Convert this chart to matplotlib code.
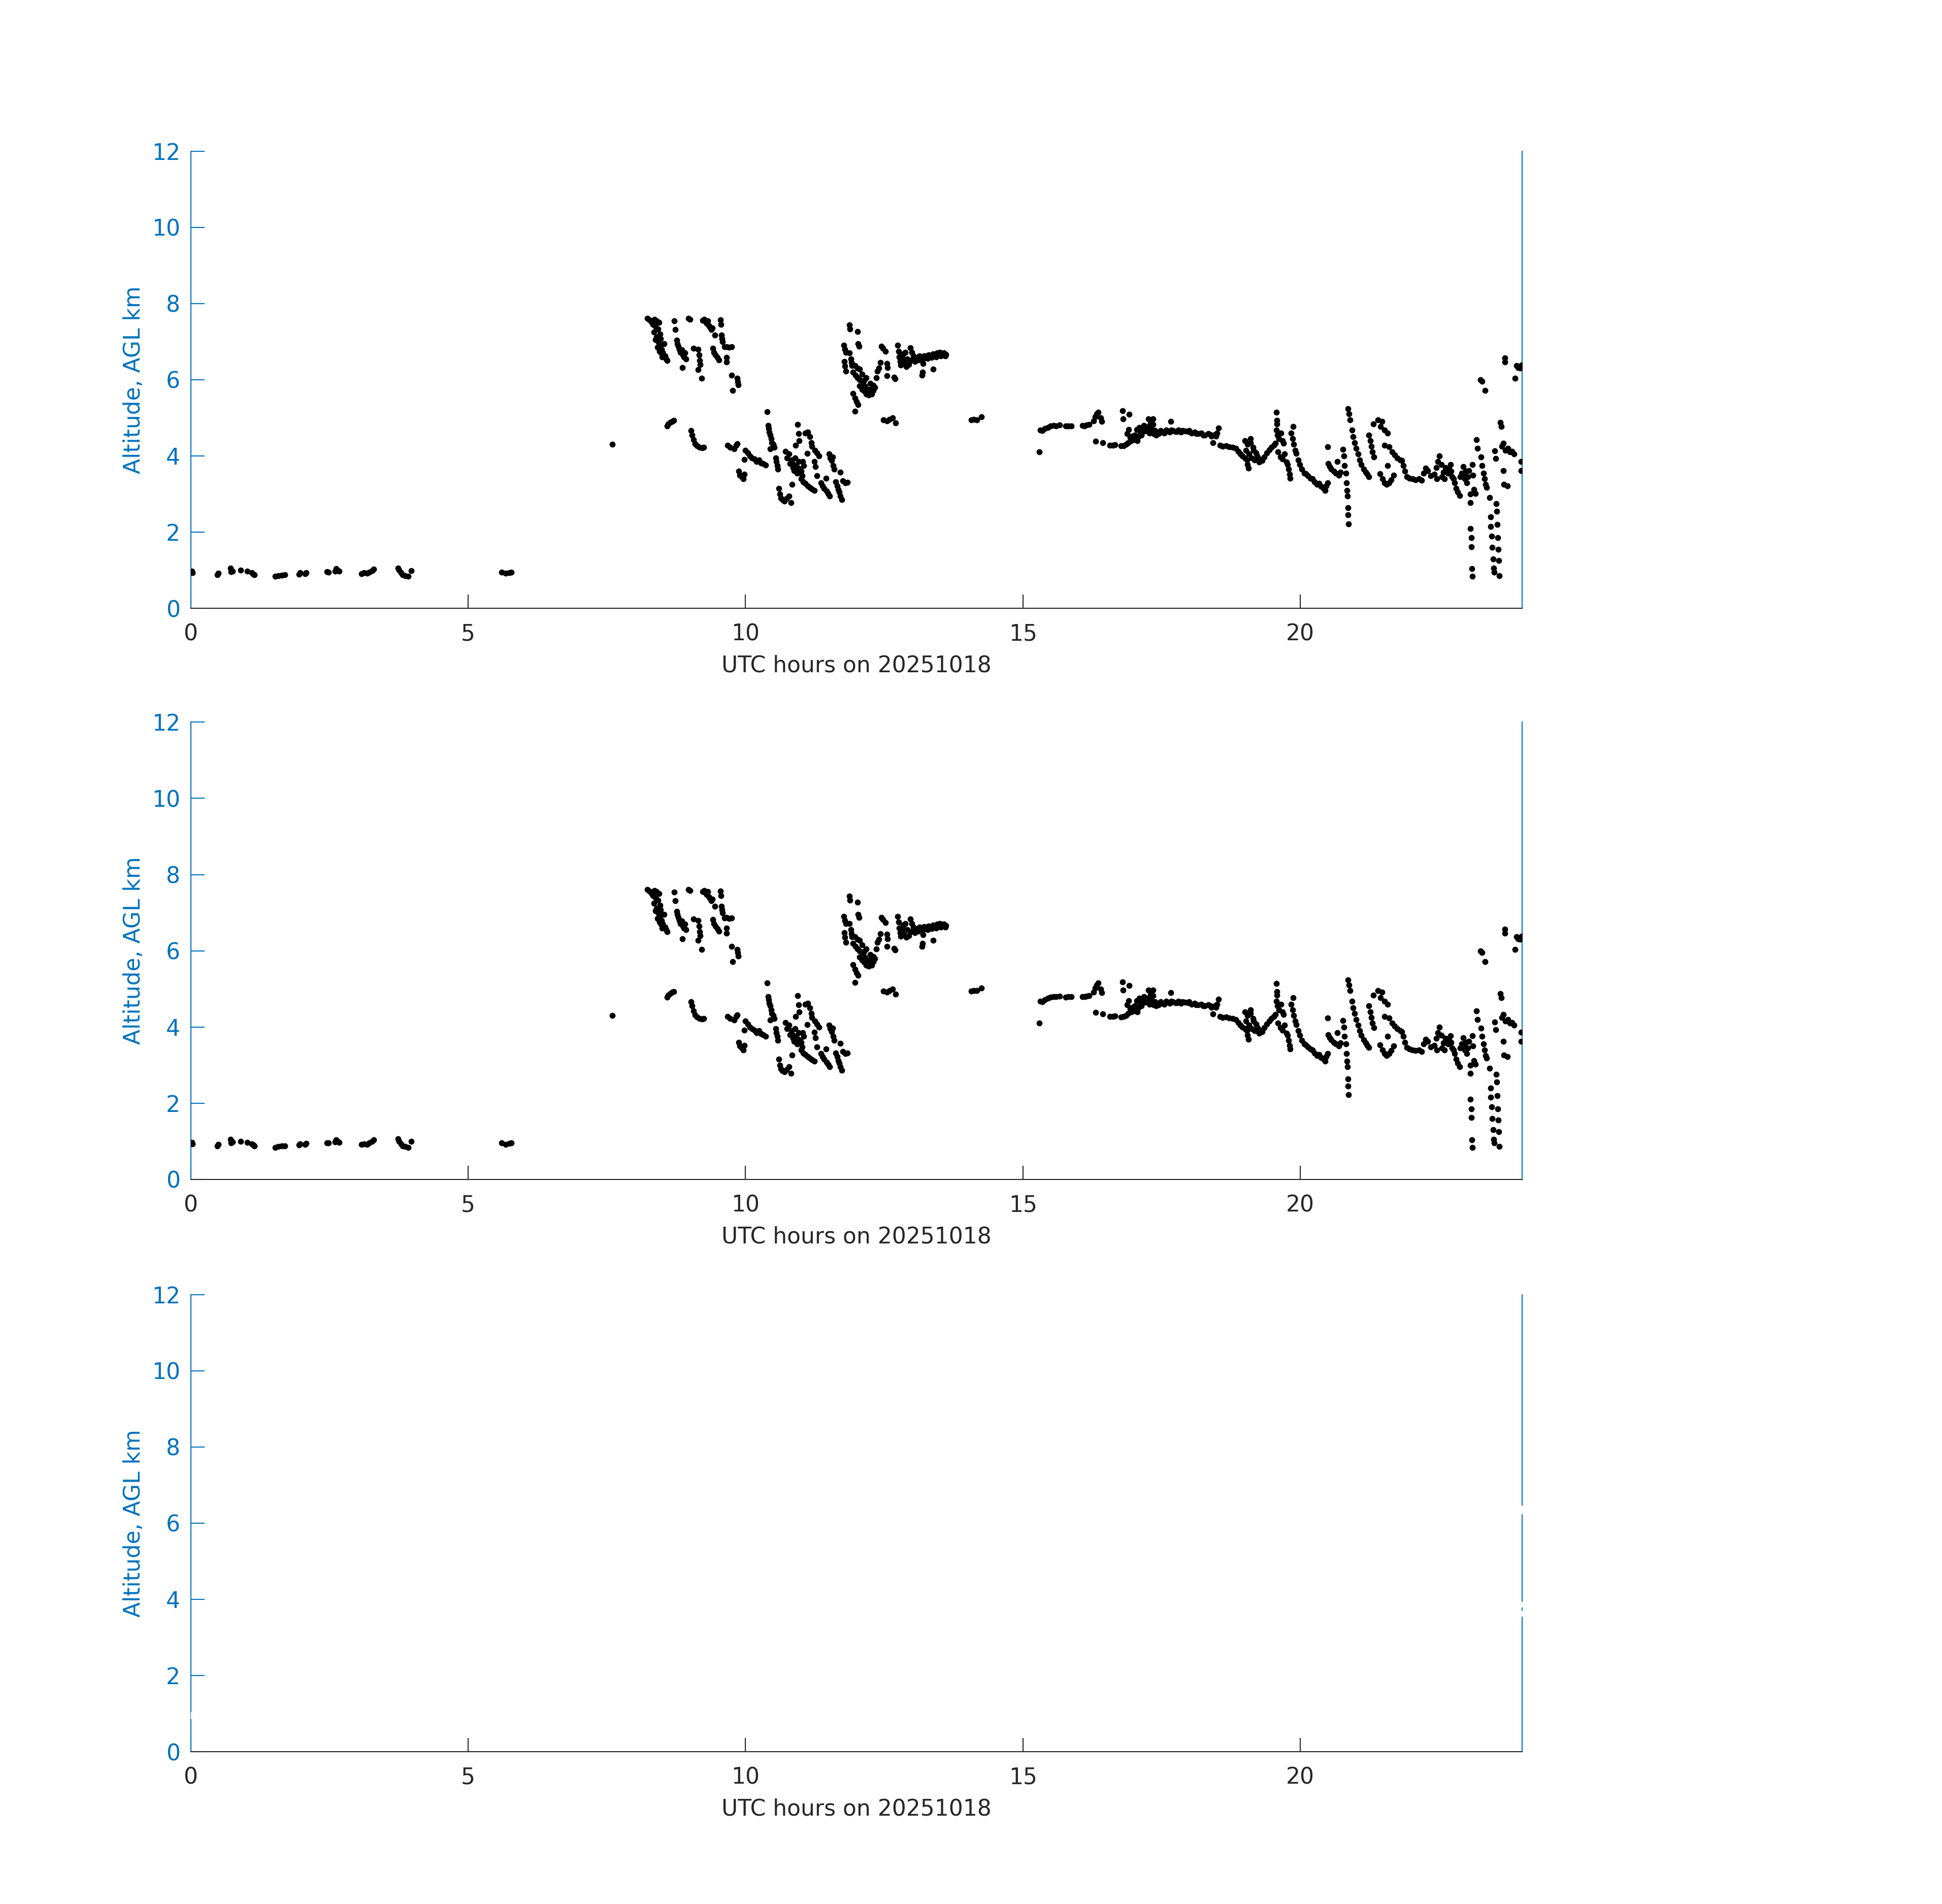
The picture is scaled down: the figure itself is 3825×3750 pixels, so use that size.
import numpy as np
import matplotlib.pyplot as plt

# --- Colours (MATLAB default look) ---
BLUE = '#0072BD'
GRAY = '#262626'

XLABEL = 'UTC hours on 20251018'
YLABEL = 'Altitude, AGL km'
X_TICKS = [0, 5, 10, 15, 20]
Y_TICKS = [0, 2, 4, 6, 8, 10, 12]

# --- Cloud base points (UTC hour, altitude km) ---
seg_boundary = [
    (0.02, 0.97), (0.03, 0.93), (0.48, 0.88), (0.50, 0.92), (0.72, 1.05), (0.73, 0.96),
    (0.75, 0.98), (0.90, 1.00), (1.02, 0.97), (1.10, 0.93), (1.13, 0.90), (1.15, 0.88),
    (1.52, 0.84), (1.58, 0.86), (1.64, 0.87), (1.70, 0.88), (1.95, 0.90), (1.97, 0.93),
    (2.06, 0.91), (2.08, 0.94), (2.46, 0.96), (2.48, 0.95), (2.60, 0.98), (2.62, 1.04),
    (2.65, 1.00), (2.68, 0.97), (3.08, 0.91), (3.12, 0.93), (3.18, 0.92), (3.22, 0.95),
    (3.27, 0.99), (3.30, 1.03), (3.74, 1.06), (3.76, 1.00), (3.79, 0.93), (3.82, 0.88),
    (3.87, 0.86), (3.92, 0.84), (3.98, 0.99), (5.60, 0.95), (5.68, 0.92), (5.74, 0.94),
    (5.78, 0.95), (7.60, 4.30),
]

seg_morning_high = [
    (8.23, 7.61), (8.27, 7.57), (8.30, 7.52), (8.33, 7.45), (8.36, 7.58), (8.38, 7.40),
    (8.40, 7.55), (8.42, 7.33), (8.44, 7.50), (8.46, 7.20), (8.47, 7.08), (8.40, 7.12),
    (8.43, 6.98), (8.46, 6.90), (8.49, 6.80), (8.51, 6.72), (8.53, 6.95), (8.55, 6.62),
    (8.57, 6.55), (8.59, 6.50), (8.48, 6.70), (8.72, 7.54), (8.73, 7.32), (8.76, 7.04),
    (8.77, 6.95), (8.79, 6.88), (8.81, 6.80), (8.83, 6.72), (8.85, 6.78), (8.87, 6.65),
    (8.89, 6.60), (8.91, 6.70), (8.93, 6.55), (8.86, 6.32), (8.97, 7.61), (9.00, 7.58),
    (9.06, 6.83), (9.15, 6.80), (9.16, 6.65), (9.17, 6.50), (9.18, 6.40), (9.15, 6.27),
    (9.21, 6.04), (9.23, 7.56), (9.26, 7.58), (9.28, 7.52), (9.30, 7.48), (9.32, 7.55),
    (9.34, 7.42), (9.36, 7.38), (9.38, 7.32), (9.40, 7.36), (9.45, 7.17), (9.55, 7.57),
    (9.56, 7.45), (9.57, 7.17), (9.58, 7.08), (9.59, 7.00), (9.41, 6.82), (9.43, 6.72),
    (9.46, 6.65), (9.49, 6.58), (9.52, 6.52), (9.62, 6.86), (9.66, 6.87), (9.70, 6.85),
    (9.75, 6.86), (9.66, 6.59), (9.66, 6.46), (9.75, 6.12), (9.85, 6.04), (9.86, 5.95),
    (9.87, 5.86), (9.77, 5.72), (8.35, 7.25), (8.38, 7.05), (8.41, 6.85), (8.45, 6.75),
    (8.50, 6.60),
]

seg_morning_low = [
    (8.59, 4.78), (8.61, 4.84), (8.64, 4.88), (8.68, 4.91), (8.71, 4.93), (9.02, 4.66),
    (9.04, 4.55), (9.06, 4.42), (9.09, 4.32), (9.13, 4.26), (9.17, 4.22), (9.22, 4.21),
    (9.25, 4.22), (9.68, 4.28), (9.72, 4.22), (9.80, 4.18), (9.83, 4.28), (9.85, 4.32),
    (9.88, 3.60), (9.90, 3.50), (9.93, 3.45), (9.96, 3.40), (9.98, 3.52), (9.98, 3.91),
    (10.00, 4.15), (10.04, 4.08), (10.08, 4.00), (10.12, 3.95), (10.16, 3.92), (10.20, 3.85),
    (10.24, 3.90), (10.28, 3.82), (10.32, 3.80), (10.36, 3.76), (10.39, 5.16), (10.41, 4.80),
    (10.42, 4.72), (10.43, 4.62), (10.45, 4.55), (10.46, 4.45), (10.47, 4.35), (10.50, 4.30),
    (10.52, 4.22), (10.45, 4.18), (10.55, 3.95), (10.56, 3.85), (10.57, 3.75), (10.58, 3.65),
    (10.60, 3.15), (10.62, 3.00), (10.64, 2.90), (10.67, 2.85), (10.70, 2.82), (10.74, 2.88),
    (10.78, 2.95), (10.82, 2.78), (10.84, 3.26), (10.72, 4.12), (10.75, 3.95), (10.78, 4.05),
    (10.80, 3.80), (10.83, 3.90), (10.86, 3.70), (10.88, 3.62), (10.91, 3.75), (10.93, 3.55),
    (10.96, 3.85), (10.99, 3.65), (11.02, 3.48), (11.05, 3.75), (10.94, 4.82), (10.96, 4.58),
    (10.97, 4.40), (10.90, 4.28), (11.00, 3.40), (11.04, 3.32), (11.08, 3.28), (11.12, 3.22),
    (11.16, 3.18), (11.20, 3.14), (11.24, 3.10), (11.08, 4.60), (11.12, 4.62), (11.16, 4.50),
    (11.19, 4.35), (11.20, 4.25), (11.11, 4.06), (11.24, 3.86), (11.26, 3.72), (11.25, 4.15),
    (11.29, 4.08), (11.32, 4.00), (11.29, 3.48), (11.36, 3.30), (11.39, 3.22), (11.42, 3.15),
    (11.45, 3.42), (11.46, 3.08), (11.49, 3.02), (11.52, 2.95), (11.51, 4.05), (11.53, 3.95),
    (11.55, 3.88), (11.57, 3.97), (11.58, 3.75), (11.60, 3.65), (11.63, 3.32), (11.65, 3.22),
    (11.67, 3.12), (11.69, 3.05), (11.71, 2.95), (11.74, 2.86), (11.71, 3.57), (11.75, 3.35),
    (11.80, 3.30), (11.84, 3.31), (10.85, 3.80), (10.89, 3.95), (10.95, 3.68), (11.00, 3.60),
    (11.03, 3.85),
]

seg_midday = [
    (11.87, 7.44), (11.88, 7.33), (12.02, 7.27), (12.03, 6.95), (12.05, 6.88), (11.77, 6.90),
    (11.79, 6.80), (11.81, 6.72), (11.87, 6.71), (11.78, 6.48), (11.79, 6.36), (11.81, 6.22),
    (11.90, 6.55), (11.91, 6.45), (11.92, 6.37), (11.97, 6.37), (12.02, 6.30), (12.06, 6.28),
    (11.94, 6.20), (11.98, 6.12), (12.02, 6.05), (12.06, 6.00), (12.10, 6.15), (12.14, 5.98),
    (12.18, 6.05), (12.06, 5.84), (12.10, 5.75), (12.14, 5.70), (12.18, 5.62), (12.22, 5.60),
    (12.26, 5.66), (12.30, 5.72), (12.33, 5.80), (11.94, 5.64), (11.97, 5.52), (12.00, 5.42),
    (12.03, 5.35), (11.97, 5.17), (12.36, 6.05), (12.38, 6.22), (12.40, 6.30), (12.43, 6.45),
    (12.45, 6.88), (12.48, 6.82), (12.52, 6.74), (12.55, 6.43), (12.56, 6.32), (12.55, 6.11),
    (12.70, 6.02), (12.68, 6.06), (12.49, 4.94), (12.55, 4.92), (12.60, 4.96), (12.65, 5.00),
    (12.71, 4.86), (12.74, 6.90), (12.76, 6.75), (12.77, 6.60), (12.79, 6.48), (12.80, 6.38),
    (12.83, 6.55), (12.86, 6.42), (12.90, 6.35), (12.94, 6.40), (12.97, 6.84), (13.00, 6.72),
    (13.03, 6.62), (13.06, 6.55), (13.10, 6.58), (13.14, 6.62), (13.18, 6.60), (13.22, 6.63),
    (13.26, 6.62), (13.30, 6.65), (13.34, 6.64), (13.38, 6.68), (13.42, 6.66), (13.46, 6.70),
    (13.50, 6.72), (13.54, 6.68), (13.58, 6.70), (13.61, 6.66), (13.20, 6.42), (13.19, 6.20),
    (13.18, 6.12), (13.38, 6.28), (14.07, 4.94), (14.12, 4.96), (14.17, 4.95), (14.25, 5.02),
    (12.92, 6.55), (12.98, 6.50), (13.05, 6.48), (13.12, 6.52), (13.20, 6.55), (13.28, 6.56),
    (13.36, 6.58), (13.44, 6.60), (13.52, 6.62), (13.60, 6.62), (12.88, 6.72), (12.84, 6.68),
    (12.20, 5.70), (12.24, 5.75), (12.28, 5.62), (12.30, 5.85), (12.12, 5.90), (12.16, 5.82),
    (12.25, 5.90),
]

seg_afternoon = [
    (15.30, 4.10), (15.31, 4.68), (15.35, 4.66), (15.40, 4.72), (15.45, 4.75), (15.50, 4.78),
    (15.55, 4.80), (15.60, 4.79), (15.66, 4.81), (15.77, 4.78), (15.82, 4.79), (15.87, 4.79),
    (16.07, 4.80), (16.11, 4.79), (16.15, 4.81), (16.19, 4.82), (16.28, 4.92), (16.30, 5.02),
    (16.33, 5.10), (16.36, 5.15), (16.40, 5.00), (16.42, 4.90), (16.31, 4.38), (16.44, 4.34),
    (16.57, 4.28), (16.62, 4.28), (16.66, 4.29), (16.77, 4.26), (16.82, 4.27), (16.86, 4.30),
    (16.90, 4.35), (16.95, 4.40), (17.00, 4.42), (16.80, 5.18), (16.81, 4.97), (16.92, 5.09),
    (16.91, 4.69), (17.05, 4.69), (16.88, 4.58), (16.93, 4.48), (16.97, 4.52), (17.02, 4.55),
    (17.06, 4.40), (17.12, 4.62), (17.16, 4.70), (17.20, 4.65), (17.24, 4.76), (17.28, 4.60),
    (17.32, 4.70), (17.36, 4.58), (17.26, 4.97), (17.35, 4.97), (17.35, 4.82), (17.40, 4.55),
    (17.45, 4.58), (17.50, 4.62), (17.55, 4.60), (17.60, 4.65), (17.65, 4.62), (17.70, 4.66),
    (17.75, 4.64), (17.80, 4.68), (17.85, 4.62), (17.92, 4.65), (17.67, 4.90), (17.98, 4.64),
    (18.04, 4.60), (18.10, 4.62), (18.16, 4.58), (18.22, 4.60), (18.28, 4.55), (18.34, 4.58),
    (18.40, 4.52), (18.46, 4.56), (18.50, 4.60), (18.53, 4.73), (18.43, 4.34), (18.55, 4.28),
    (18.60, 4.25), (18.66, 4.26), (18.72, 4.24), (18.78, 4.22), (18.84, 4.20), (18.88, 4.12),
    (18.92, 4.05), (18.96, 4.00), (19.00, 3.95), (19.04, 3.90), (19.07, 3.68), (19.05, 3.78),
    (19.00, 4.40), (19.05, 4.30), (19.10, 4.35), (19.15, 4.22), (19.20, 4.08), (19.26, 3.84),
    (17.08, 4.50), (17.14, 4.55), (17.18, 4.80), (17.22, 4.68), (17.30, 4.85), (17.38, 4.66),
    (17.10, 4.75), (17.48, 4.66), (17.58, 4.68), (17.68, 4.68), (17.78, 4.64), (17.88, 4.66),
    (18.00, 4.66), (18.12, 4.58), (18.25, 4.55), (18.38, 4.56), (18.48, 4.52), (19.02, 4.15),
    (19.08, 4.05), (19.12, 3.95), (19.16, 4.15), (19.22, 4.00), (19.18, 3.90), (19.10, 4.45),
    (19.24, 3.95),
]

seg_evening = [
    (19.28, 3.90), (19.31, 3.88), (19.35, 3.98), (19.40, 4.08), (19.44, 4.16), (19.48, 4.22),
    (19.52, 4.28), (19.55, 4.33), (19.57, 5.14), (19.58, 4.93), (19.58, 4.84), (19.57, 4.68),
    (19.59, 4.55), (19.62, 4.45), (19.65, 4.60), (19.68, 4.40), (19.70, 4.33), (19.60, 4.10),
    (19.64, 3.98), (19.68, 3.92), (19.72, 4.05), (19.75, 3.84), (19.77, 3.78), (19.79, 3.65),
    (19.81, 3.52), (19.82, 3.42), (19.87, 4.77), (19.84, 4.60), (19.86, 4.45), (19.88, 4.30),
    (19.91, 4.15), (19.93, 4.06), (19.96, 3.90), (19.99, 3.78), (20.03, 3.65), (20.07, 3.55),
    (20.10, 3.53), (20.14, 3.48), (20.18, 3.42), (20.22, 3.40), (20.26, 3.32), (20.30, 3.25),
    (20.34, 3.28), (20.38, 3.20), (20.42, 3.15), (20.45, 3.10), (20.47, 3.22), (20.49, 3.30),
    (20.49, 4.24), (20.50, 3.80), (20.53, 3.72), (20.56, 3.66), (20.60, 3.60), (20.64, 3.55),
    (20.67, 3.85), (20.70, 3.50), (20.72, 3.58), (20.77, 4.17), (20.79, 4.00), (20.80, 3.75),
    (20.82, 3.55), (20.83, 3.30), (20.84, 3.10), (20.85, 2.95), (20.86, 2.64), (20.86, 2.45),
    (20.87, 2.22), (20.86, 5.24), (20.88, 5.10), (20.90, 4.95), (20.93, 4.68), (20.95, 4.50),
    (20.98, 4.35), (21.01, 4.20), (21.04, 4.05), (21.07, 3.90), (21.10, 3.78), (21.14, 3.66),
    (21.18, 3.58), (21.21, 3.52), (21.24, 3.46), (21.24, 4.55), (21.26, 4.40), (21.28, 4.25),
    (21.30, 4.10), (21.33, 3.98), (21.32, 4.84), (21.40, 4.95), (21.47, 4.91), (21.45, 4.77),
    (21.52, 4.68), (21.57, 4.60), (21.52, 4.28), (21.60, 4.24), (21.44, 3.53), (21.48, 3.40),
    (21.52, 3.30), (21.56, 3.25), (21.60, 3.30), (21.64, 3.38), (21.68, 3.50), (21.57, 3.75),
    (21.66, 4.10), (21.70, 4.02), (21.75, 3.95), (21.80, 3.90), (21.83, 3.88), (21.86, 3.75),
    (21.89, 3.60), (21.92, 3.46), (21.97, 3.42), (22.02, 3.40), (22.08, 3.38), (22.14, 3.40),
    (22.19, 3.36), (22.22, 3.55), (22.26, 3.68), (22.30, 3.62), (22.35, 3.48), (22.42, 3.52),
    (22.45, 3.70), (22.48, 3.85), (22.51, 4.00), (22.54, 3.78), (22.58, 3.58), (22.62, 3.70),
    (22.66, 3.55), (22.71, 3.77), (22.74, 3.45), (22.78, 3.30), (22.81, 3.15), (22.84, 3.05),
    (22.87, 2.96), (22.91, 3.55), (22.94, 3.72), (22.97, 3.40), (23.00, 3.30), (23.04, 3.62),
    (23.07, 3.00), (23.07, 2.78), (23.07, 2.10), (23.08, 1.85), (23.08, 1.62), (23.09, 1.04),
    (23.10, 0.84), (23.10, 3.77), (23.11, 3.50), (23.13, 3.12), (23.16, 3.02), (23.18, 4.42),
    (23.19, 4.20), (23.25, 6.00), (23.28, 5.96), (23.33, 5.72), (23.26, 3.97), (23.28, 3.75),
    (23.30, 3.55), (23.32, 3.40), (23.34, 3.25), (23.36, 3.18), (23.41, 2.91), (23.43, 2.40),
    (23.43, 2.15), (23.45, 1.90), (23.46, 1.60), (23.48, 1.30), (23.49, 1.05), (23.50, 0.95),
    (23.53, 2.75), (23.54, 2.55), (23.55, 2.20), (23.56, 1.85), (23.57, 1.55), (23.58, 1.25),
    (23.59, 0.86), (23.51, 4.13), (23.52, 3.93), (23.61, 4.88), (23.62, 4.77), (23.63, 4.25),
    (23.66, 4.33), (23.70, 4.15), (23.74, 4.20), (23.78, 4.10), (23.82, 4.12), (23.85, 4.05),
    (23.66, 3.62), (23.67, 3.26), (23.73, 3.22), (23.69, 6.57), (23.69, 6.46), (23.87, 6.04),
    (23.90, 6.37), (23.93, 6.32), (23.96, 6.30), (23.99, 6.38), (23.98, 3.86), (23.98, 3.62),
    (22.46, 3.40), (22.55, 3.45), (22.60, 3.40), (22.68, 3.65), (22.72, 3.60), (22.76, 3.40),
    (22.95, 3.50), (23.02, 3.45), (22.88, 3.45), (22.98, 3.60),
]

segments = [seg_boundary, seg_morning_high, seg_morning_low, seg_midday,
            seg_afternoon, seg_evening]
pts = np.array([p for seg in segments for p in seg])
hours, alt_km = pts[:, 0], pts[:, 1]

FS = 12.7


def style_axes(ax):
    ax.set_xlim(0, 24)
    ax.set_ylim(0, 12)
    ax.set_xticks(X_TICKS)
    ax.set_yticks(Y_TICKS)
    ax.spines['top'].set_visible(False)
    ax.spines['left'].set_color(BLUE)
    ax.spines['right'].set_color(BLUE)
    ax.spines['bottom'].set_color(GRAY)
    for s in ax.spines.values():
        s.set_linewidth(0.6)
    ax.tick_params(axis='x', direction='in', length=7.8, width=0.6, colors=GRAY,
                   labelsize=FS, pad=8.5)
    ax.tick_params(axis='y', direction='in', length=7.8, width=0.6, colors=BLUE,
                   labelsize=FS, pad=6, right=False)
    ax.set_xlabel(XLABEL, fontsize=FS, color=GRAY, labelpad=5.5)
    ax.set_ylabel(YLABEL, fontsize=FS, color=BLUE, labelpad=4)


fig = plt.figure(figsize=(15.3, 15.0), dpi=250)
left, width, height = 0.0982, 0.6856, 0.2401
bottoms = [0.6805, 0.3806, 0.0800]

for i, b in enumerate(bottoms):
    ax = fig.add_axes([left, b, width, height])
    style_axes(ax)
    if i < 2:
        ax.plot(hours, alt_km, linestyle='none', marker='o', ms=3.4,
                color='black', markeredgewidth=0, zorder=3)
    else:
        # third panel: the same points drawn in white (only visible over the axes lines)
        ax.plot(hours, alt_km, linestyle='none', marker='o', ms=3.4,
                color='white', markeredgewidth=0, zorder=3)

fig.savefig('out.png', dpi=250)
